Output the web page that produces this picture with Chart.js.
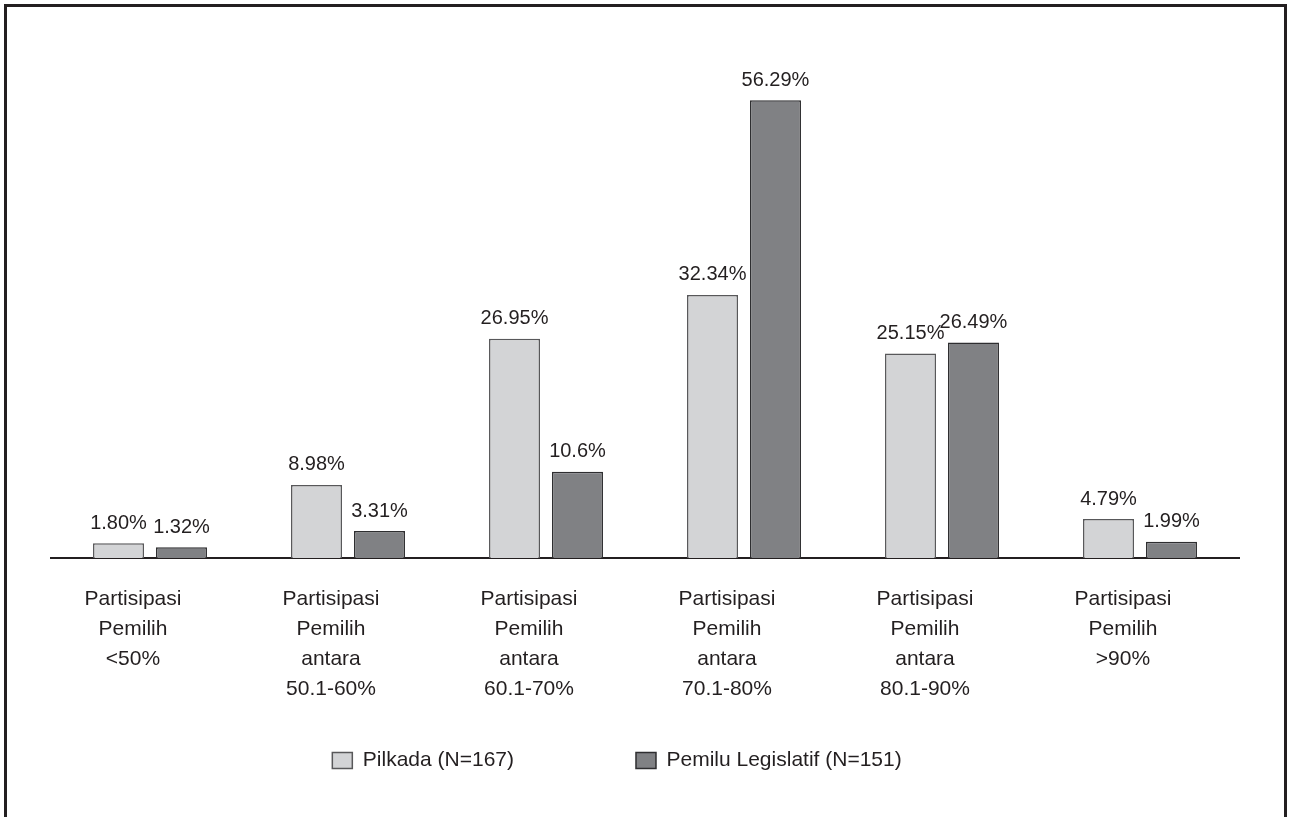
<!DOCTYPE html>
<html>
<head>
<meta charset="utf-8">
<script src="https://cdn.jsdelivr.net/npm/chart.js@4/dist/chart.umd.min.js"></script>
<style>
  html, body { margin: 0; padding: 0; background: #fff; overflow: hidden; }
  #bingkai { position: absolute; left: 4px; top: 4px; width: 1277px; height: 830px; border: 3px solid #231f20; pointer-events: none; }
  #grafik { position: absolute; left: 0; top: 0; }
</style>
</head>
<body>
<canvas id="grafik" width="1290" height="817"></canvas>
<div id="bingkai"></div>
<script>
// kategori (sumbu x)
const kategori = [
    ['Partisipasi', 'Pemilih', '<50%'],
    ['Partisipasi', 'Pemilih', 'antara', '50.1-60%'],
    ['Partisipasi', 'Pemilih', 'antara', '60.1-70%'],
    ['Partisipasi', 'Pemilih', 'antara', '70.1-80%'],
    ['Partisipasi', 'Pemilih', 'antara', '80.1-90%'],
    ['Partisipasi', 'Pemilih', '>90%']
];

const nilaiPilkada = [1.80, 8.98, 26.95, 32.34, 25.15, 4.79];
const nilaiLegislatif = [1.32, 3.31, 10.6, 56.29, 26.49, 1.99];

// label nilai seperti tertulis di gambar
const labelPilkada = ['1.80%', '8.98%', '26.95%', '32.34%', '25.15%', '4.79%'];
const labelLegislatif = ['1.32%', '3.31%', '10.6%', '56.29%', '26.49%', '1.99%'];

const namaSeri = ['Pilkada (N=167)', 'Pemilu Legislatif (N=151)'];

const warnaTeks = '#231f20';
Chart.defaults.font.family = "'Liberation Sans', Arial, sans-serif";
Chart.defaults.color = warnaTeks;

const labelNilai = {
    id: 'labelNilai',
    afterDatasetsDraw(chart) {
        const ctx = chart.ctx;
        const semuaLabel = [labelPilkada, labelLegislatif];
        ctx.save();
        ctx.font = "20px 'Liberation Sans', Arial, sans-serif";
        ctx.fillStyle = warnaTeks;
        ctx.textAlign = 'center';
        ctx.textBaseline = 'bottom';
        chart.data.datasets.forEach((ds, i) => {
            chart.getDatasetMeta(i).data.forEach((bar, j) => {
                ctx.fillText(semuaLabel[i][j], bar.x, bar.y - 10);
            });
        });
        ctx.restore();
    }
};

// geser legenda sedikit ke kiri, dan jangan potong label sumbu x
const aturTata = {
    id: 'aturTata',
    afterLayout(chart) {
        chart.legend.left -= 28;
        chart.legend.right -= 28;
        chart.scales.x.bottom = chart.height;
    }
};

new Chart(document.getElementById('grafik'), {
    type: 'bar',
    data: {
        labels: kategori,
        datasets: [{
            label: namaSeri[0],
            data: nilaiPilkada,
            backgroundColor: '#d3d4d6',
            borderColor: '#58585a',
            borderWidth: 1.5
        }, {
            label: namaSeri[1],
            data: nilaiLegislatif,
            backgroundColor: '#808184',
            borderColor: '#2e2e30',
            borderWidth: 1.5
        }]
    },
    options: {
        responsive: false,
        animation: false,
        categoryPercentage: 0.636,
        barPercentage: 0.81,
        layout: { padding: { top: 70, left: 51, right: 51, bottom: 36 } },
        plugins: {
            tooltip: { enabled: false },
            legend: {
                position: 'bottom',
                labels: {
                    boxWidth: 20,
                    boxHeight: 16,
                    padding: 122,
                    color: warnaTeks,
                    font: { size: 21 }
                }
            }
        },
        scales: {
            x: {
                grid: { display: false, drawTicks: false },
                border: { display: true, color: warnaTeks, width: 2 },
                ticks: {
                    color: warnaTeks,
                    padding: 26,
                    labelOffset: -17,
                    maxRotation: 0,
                    autoSkip: true,
                    font: { size: 21, lineHeight: 1.43 }
                },
                // tinggi sumbu dikecilkan, label tetap digambar di bawahnya
                afterFit(scale) { scale.height = 70; }
            },
            y: {
                display: false,
                min: 0,
                max: 60
            }
        }
    },
    plugins: [labelNilai, aturTata]
});
</script>
</body>
</html>
